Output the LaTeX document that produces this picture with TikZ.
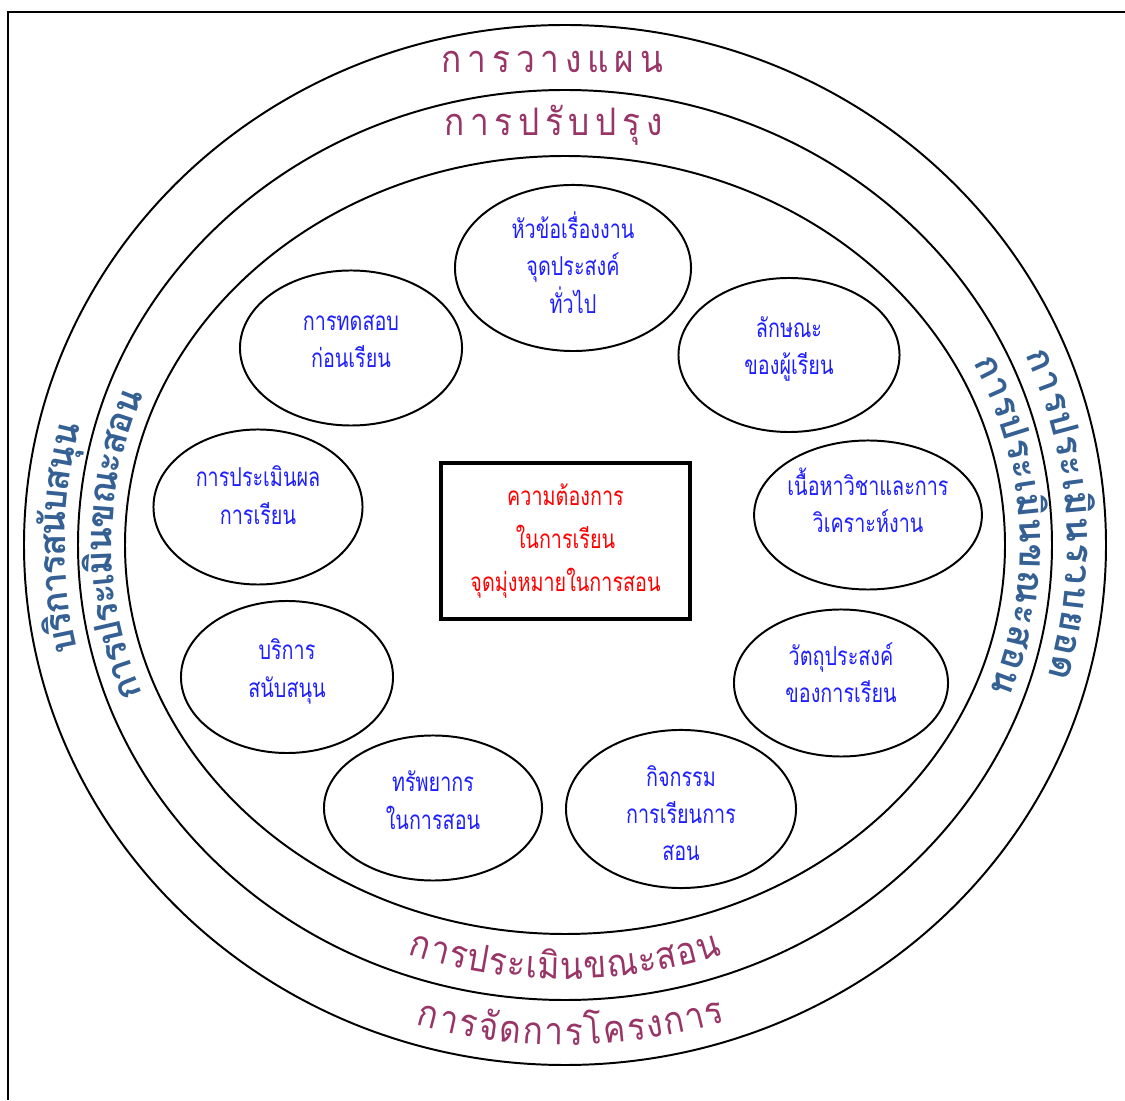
\documentclass[tikz,border=0pt]{standalone}
\usepackage{fontspec}
\usepackage{xcolor}
\usepackage{tikz}
\usetikzlibrary{shapes.geometric}
\newfontfamily\thaifont[Script=Thai]{Loma}
\newfontfamily\plumface[Script=Thai,FakeStretch=0.88]{Loma}
\newfontfamily\bubfont[Script=Thai,FakeStretch=0.76]{Loma}
\definecolor{plum}{RGB}{152,52,102}
\definecolor{steel}{RGB}{52,96,148}
\definecolor{bubblue}{RGB}{30,30,255}
\newcommand\plumfont{\color{plum}\plumface\fontsize{27}{29}\selectfont}
\newcommand\steelfont{\color{steel}\thaifont\bfseries\fontsize{26}{28}\selectfont}
\newlength\glyphw
% width of one letter, measured outside the picture's null font
\newcommand\measure[2]{%
  \pgfinterruptpicture\settowidth\glyphw{#1#2}\xdef\glyphwd{\the\glyphw}\endpgfinterruptpicture}
% lines of a bubble, lifted without changing the box
\newcommand\lift[2]{\raisebox{#1}[\height][\depth]{\begin{tabular}{@{}c@{}}#2\end{tabular}}}
% letters set one by one round an ellipse: name, font, x radius, y radius, start angle, sense, turn, gap, letters
\newcommand\arcword[9]{%
  \xdef\arcpos{#5}%
  \foreach \cl [count=\k] in {#9} {%
    \measure{#2}{\cl}%
    \pgfmathsetmacro\arcspd{100*sqrt((#3/100*sin(\arcpos))^2+(#4/100*cos(\arcpos))^2)}%
    \pgfmathsetmacro\arcmid{\arcpos+#6*(\glyphwd/0.7113/2+#8)/\arcspd*57.296}%
    \pgfmathsetmacro\arcnrm{atan2(#3*sin(\arcmid),#4*cos(\arcmid))}%
    \node[font=#2,anchor=base,inner sep=0pt,rotate=\arcnrm+(#7)] (#1\k) at ({#3*cos(\arcmid)},{#4*sin(\arcmid)}) {\cl};
    \pgfmathsetmacro\arcnxt{\arcpos+#6*(\glyphwd/0.7113+2*#8)/\arcspd*57.296}%
    \xdef\arcpos{\arcnxt}%
  }%
}
% letters set one by one on a straight line: name, font, x, y, gap, letters
\newcommand\lineword[6]{%
  \xdef\linepos{#3}%
  \foreach \cl [count=\k] in {#6} {%
    \measure{#2}{\cl}%
    \pgfmathsetmacro\linemid{\linepos+\glyphwd/0.7113/2+#5}%
    \node[font=#2,anchor=base,inner sep=0pt] (#1\k) at (\linemid,#4) {\cl};
    \pgfmathsetmacro\linenxt{\linepos+\glyphwd/0.7113+2*#5}%
    \xdef\linepos{\linenxt}%
  }%
}

\begin{document}
\begin{tikzpicture}[x=0.025cm,y=0.025cm,
    ring/.style={line width=1.4pt},
    bub/.style={ellipse,draw,line width=1.4pt,inner sep=0pt,text=bubblue,
      font=\bubfont\fontsize{18.5}{26.5}\selectfont}]
  \useasboundingbox (0,0) rectangle (1125,1100);
  \draw[line width=2.1pt] (8,0) -- (8,1088) -- (1125,1088);
  % rings
  \coordinate (O) at (565,555);
  \draw[ring] (O) ellipse [x radius=541, y radius=520];
  \draw[ring] (O) ellipse [x radius=487, y radius=455];
  \draw[ring] (O) ellipse [x radius=440, y radius=389];
  % texts in the rings
  \lineword{plan}{\plumfont}{439}{1027}{2.9}{ก,า,ร,ว,า,ง,แ,ผ,น}
  \lineword{impr}{\plumfont}{442}{964}{2.8}{ก,า,ร,ป,รั,บ,ป,รุ,ง}
  \begin{scope}[shift={(O)}]
    \arcword{evin}{\plumfont}{475}{434}{250.6}{1}{90}{0.5}{ก,า,ร,ป,ร,ะ,เ,มิ,น,ข,ณ,ะ,ส,อ,น}
    \arcword{proj}{\plumfont}{526}{500}{253.4}{1}{90}{1}{ก,า,ร,จั,ด,ก,า,ร,โ,ค,ร,ง,ก,า,ร}
    \arcword{summ}{\steelfont}{502}{478}{23.5}{-1}{-90}{0.45}{ก,า,ร,ป,ร,ะ,เ,มิ,น,ร,ว,บ,ย,อ,ด}
    \arcword{evr}{\steelfont}{455}{413}{26.3}{-1}{-90}{0.2}{ก,า,ร,ป,ร,ะ,เ,มิ,น,ข,ณ,ะ,ส,อ,น}
    \arcword{supp}{\steelfont}{500}{477}{192.7}{-1}{-90}{-1}{บ,ริ,ก,า,ร,ส,นั,บ,ส,นุ,น}
    \arcword{evl}{\steelfont}{453}{412}{201.2}{-1}{-90}{-0.9}{ก,า,ร,ป,ร,ะ,เ,มิ,น,ข,ณ,ะ,ส,อ,น}
  \end{scope}
  % centre box
  \node[draw,line width=2.8pt,minimum width=6.225cm,minimum height=3.9cm,align=center,text=red,
    font=\bubfont\fontsize{18.5}{30.5}\selectfont] (need) at (565.5,559)
    {ความต้องการ\\ในการเรียน\\จุดมุ่งหมายในการสอน};
  % steps round the box
  \node[bub,minimum width=5.9cm,minimum height=4.15cm] (topic) at (573,832) {\lift{0pt}{หัวข้อเรื่องงาน\\จุดประสงค์\\ทั่วไป}};
  \node[bub,minimum width=5.525cm,minimum height=3.85cm] (learner) at (789,745) {\lift{4.6pt}{ลักษณะ\\ของผู้เรียน}};
  \node[bub,minimum width=5.45cm,minimum height=3.725cm] (content) at (868,585) {\lift{6.5pt}{เนื้อหาวิชาและการ\\วิเคราะห์งาน}};
  \node[bub,minimum width=5.35cm,minimum height=3.675cm] (objective) at (841,417) {\lift{4.5pt}{วัตถุประสงค์\\ของการเรียน}};
  \node[bub,minimum width=5.75cm,minimum height=3.825cm] (activity) at (681,291) {\lift{-5pt}{กิจกรรม\\การเรียนการ\\สอน}};
  \node[bub,minimum width=5.45cm,minimum height=3.625cm] (resource) at (433,292) {\lift{3.5pt}{ทรัพยากร\\ในการสอน}};
  \node[bub,minimum width=5.3cm,minimum height=3.8cm] (service) at (287,423) {\lift{4.3pt}{บริการ\\สนับสนุน}};
  \node[bub,minimum width=5.225cm,minimum height=3.875cm] (assess) at (258,593) {\lift{6.3pt}{การประเมินผล\\การเรียน}};
  \node[bub,minimum width=5.55cm,minimum height=3.875cm] (pretest) at (351,752) {\lift{4.6pt}{การทดสอบ\\ก่อนเรียน}};
\end{tikzpicture}
\end{document}
